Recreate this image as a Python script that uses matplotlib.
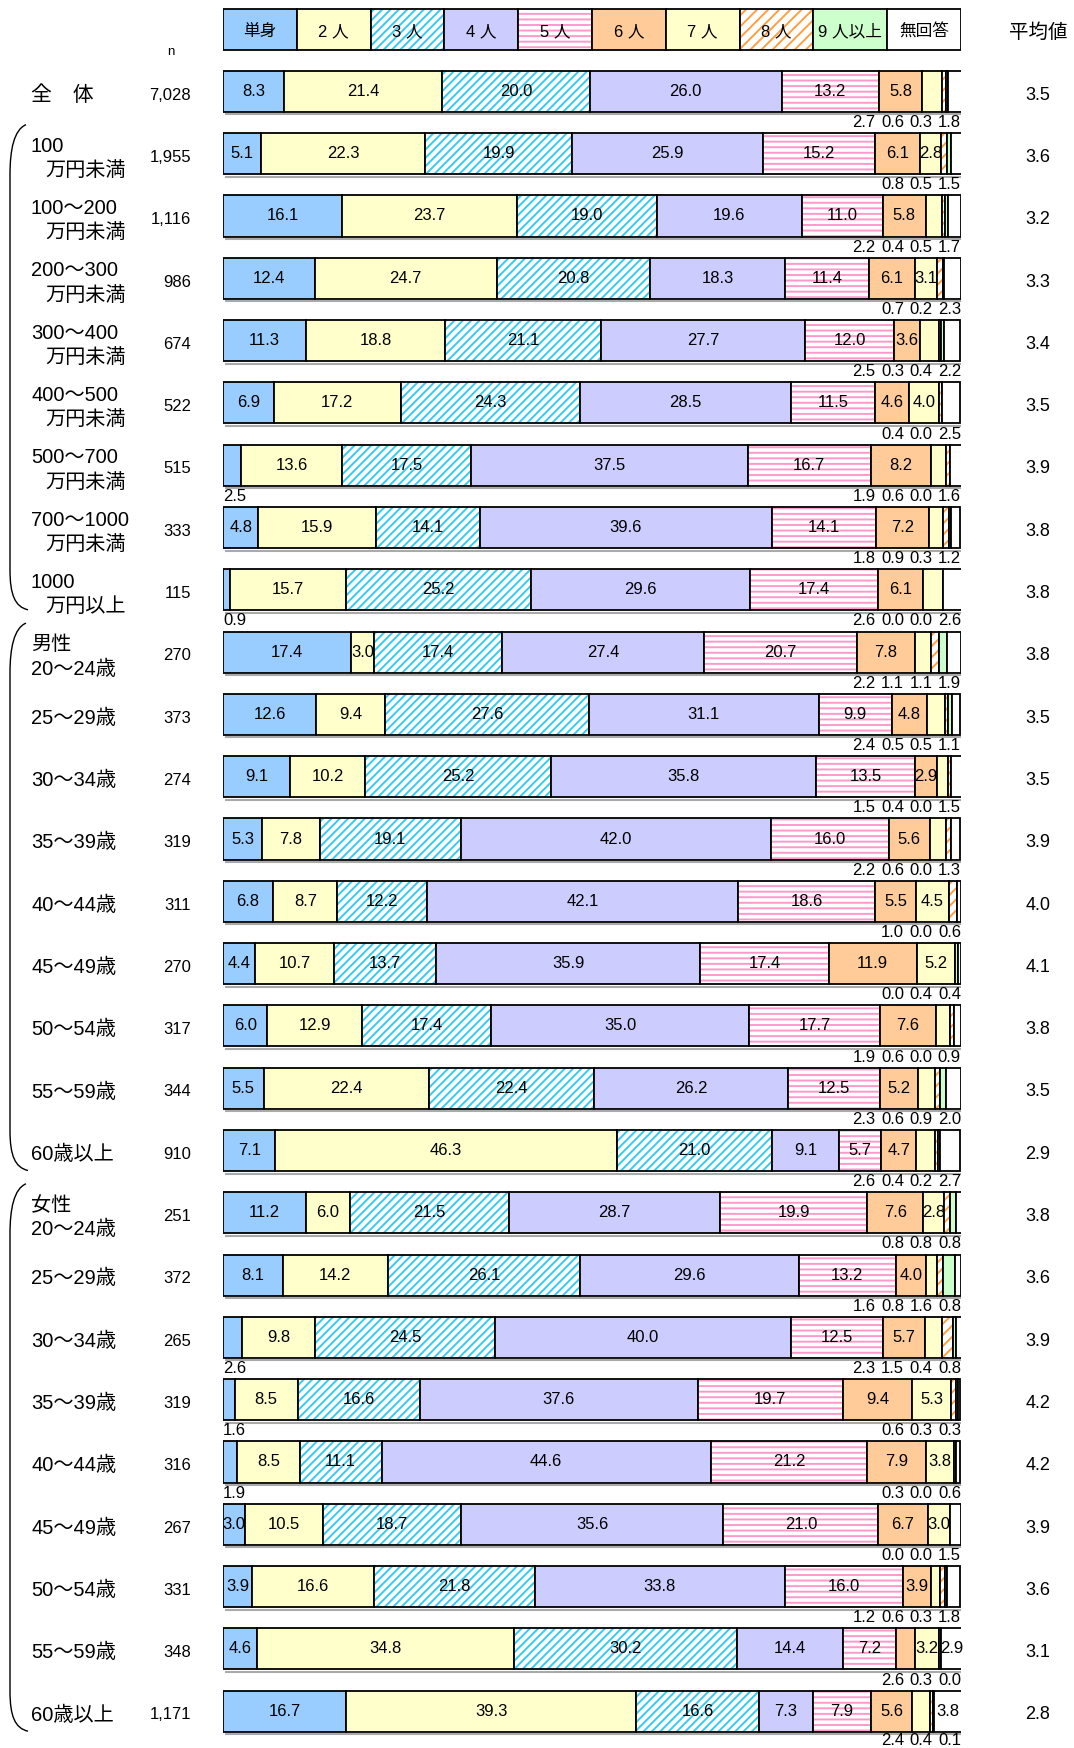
###################################################
# household size distribution by income / sex & age
###################################################
import matplotlib.pyplot as plt
import matplotlib.transforms as mtransforms
from matplotlib.path import Path
from matplotlib.patches import PathPatch

plt.rcParams['font.family'] = ['Liberation Sans', 'Noto Sans CJK JP']
plt.rcParams['hatch.linewidth'] = 1.4

# legend names of the household sizes
sizes = ["単身", "2 人", "3 人", "4 人", "5 人", "6 人", "7 人", "8 人", "9 人以上", "無回答"]

# row labels (first line, second line)
label_top = ["全　体",
             "100", "100～200", "200～300", "300～400", "400～500", "500～700", "700～1000", "1000",
             "男性", "25～29歳", "30～34歳", "35～39歳", "40～44歳", "45～49歳", "50～54歳", "55～59歳", "60歳以上",
             "女性", "25～29歳", "30～34歳", "35～39歳", "40～44歳", "45～49歳", "50～54歳", "55～59歳", "60歳以上"]
label_bottom = [None,
                "万円未満", "万円未満", "万円未満", "万円未満", "万円未満", "万円未満", "万円未満", "万円以上",
                "20～24歳", None, None, None, None, None, None, None, None,
                "20～24歳", None, None, None, None, None, None, None, None]

n_values = ["7,028",
            "1,955", "1,116", "986", "674", "522", "515", "333", "115",
            "270", "373", "274", "319", "311", "270", "317", "344", "910",
            "251", "372", "265", "319", "316", "267", "331", "348", "1,171"]

averages = [3.5,
            3.6, 3.2, 3.3, 3.4, 3.5, 3.9, 3.8, 3.8,
            3.8, 3.5, 3.5, 3.9, 4.0, 4.1, 3.8, 3.5, 2.9,
            3.8, 3.6, 3.9, 4.2, 4.2, 3.9, 3.6, 3.1, 2.8]

# shares (%) per household size
single = [8.3, 5.1, 16.1, 12.4, 11.3, 6.9, 2.5, 4.8, 0.9, 17.4, 12.6, 9.1, 5.3, 6.8, 4.4, 6.0, 5.5, 7.1,
          11.2, 8.1, 2.6, 1.6, 1.9, 3.0, 3.9, 4.6, 16.7]
two = [21.4, 22.3, 23.7, 24.7, 18.8, 17.2, 13.6, 15.9, 15.7, 3.0, 9.4, 10.2, 7.8, 8.7, 10.7, 12.9, 22.4, 46.3,
       6.0, 14.2, 9.8, 8.5, 8.5, 10.5, 16.6, 34.8, 39.3]
three = [20.0, 19.9, 19.0, 20.8, 21.1, 24.3, 17.5, 14.1, 25.2, 17.4, 27.6, 25.2, 19.1, 12.2, 13.7, 17.4, 22.4, 21.0,
         21.5, 26.1, 24.5, 16.6, 11.1, 18.7, 21.8, 30.2, 16.6]
four = [26.0, 25.9, 19.6, 18.3, 27.7, 28.5, 37.5, 39.6, 29.6, 27.4, 31.1, 35.8, 42.0, 42.1, 35.9, 35.0, 26.2, 9.1,
        28.7, 29.6, 40.0, 37.6, 44.6, 35.6, 33.8, 14.4, 7.3]
five = [13.2, 15.2, 11.0, 11.4, 12.0, 11.5, 16.7, 14.1, 17.4, 20.7, 9.9, 13.5, 16.0, 18.6, 17.4, 17.7, 12.5, 5.7,
        19.9, 13.2, 12.5, 19.7, 21.2, 21.0, 16.0, 7.2, 7.9]
six = [5.8, 6.1, 5.8, 6.1, 3.6, 4.6, 8.2, 7.2, 6.1, 7.8, 4.8, 2.9, 5.6, 5.5, 11.9, 7.6, 5.2, 4.7,
       7.6, 4.0, 5.7, 9.4, 7.9, 6.7, 3.9, 2.6, 5.6]
seven = [2.7, 2.8, 2.2, 3.1, 2.5, 4.0, 1.9, 1.8, 2.6, 2.2, 2.4, 1.5, 2.2, 4.5, 5.2, 1.9, 2.3, 2.6,
         2.8, 1.6, 2.3, 5.3, 3.8, 3.0, 1.2, 3.2, 2.4]
eight = [0.6, 0.8, 0.4, 0.7, 0.3, 0.4, 0.6, 0.9, 0.0, 1.1, 0.5, 0.4, 0.6, 1.0, 0.0, 0.6, 0.6, 0.4,
         0.8, 0.8, 1.5, 0.6, 0.3, 0.0, 0.6, 0.3, 0.4]
nine_plus = [0.3, 0.5, 0.5, 0.2, 0.4, 0.0, 0.0, 0.3, 0.0, 1.1, 0.5, 0.0, 0.0, 0.0, 0.4, 0.0, 0.9, 0.2,
             0.8, 1.6, 0.4, 0.3, 0.0, 0.0, 0.3, 0.0, 0.1]
no_answer = [1.8, 1.5, 1.7, 2.3, 2.2, 2.5, 1.6, 1.2, 2.6, 1.9, 1.1, 1.5, 1.3, 0.6, 0.4, 0.9, 2.0, 2.7,
             0.8, 0.8, 0.8, 0.3, 0.6, 1.5, 1.8, 2.9, 3.8]

series = [single, two, three, four, five, six, seven, eight, nine_plus, no_answer]

# styles
face_colors = ['#99CCFF', '#FFFFCC', 'white', '#CCCCFF', 'white', '#FFCC99', '#FFFFCC', 'white', '#CCFFCC', 'white']
hatch_colors = [None, None, '#33CCF0', None, '#FF99CC', None, None, '#FFA040', None, None]
hatches = [None, None, '////', None, '---', None, None, '///', None, None]

W, H = 1074, 1748
ROW0, STEP = 91.4, 62.3      # pixel centre of first row, row spacing
BAR_H = 0.66
INSIDE_MIN = 2.8
VAL_FS = 12
BELOW = 0.5                  # offset of the small labels under a bar

fig = plt.figure(figsize=(W / 100, H / 100), dpi=100)
ax = fig.add_axes([223 / W, 0, 738 / W, 1])
ax.set_xlim(0, 100)
ax.set_ylim((H - ROW0) / STEP, -ROW0 / STEP)
ax.axis('off')

fx = mtransforms.blended_transform_factory(fig.transFigure, ax.transData)


def draw_segments(y, widths, lefts, k, lw=1.3):
    kw = dict(height=BAR_H, left=lefts, color=face_colors[k])
    if hatches[k]:
        ax.barh(y, widths, edgecolor=hatch_colors[k], hatch=hatches[k], linewidth=0, **kw)
    else:
        ax.barh(y, widths, linewidth=0, **kw)
    ax.barh(y, widths, left=lefts, height=BAR_H, fill=False, edgecolor='black',
            linewidth=[lw if w > 0 else 0 for w in widths])


# legend row
legend_y = -0.99
for k, name in enumerate(sizes):
    draw_segments([legend_y], [10], [k * 10], k)
    ax.text(k * 10 + 5, legend_y + 0.03, name, ha='center', va='center', fontsize=12)
ax.text(1038 / W, legend_y + 0.04, "平均値", transform=fx, ha='center', va='center', fontsize=14)
ax.text(171 / W, -0.63, "n", transform=fx, ha='center', va='center', fontsize=9.5)

# stacked bars
rows = list(range(len(n_values)))
lefts = [0.0] * len(rows)
for k, vals in enumerate(series):
    draw_segments(rows, vals, lefts, k)
    lefts = [a + b for a, b in zip(lefts, vals)]

# shadow line under each bar
for i in rows:
    ax.plot([0.3, 100], [i + BAR_H / 2 + 0.04] * 2, color='#AAAAAA', lw=1.5, solid_capstyle='butt')

# value labels
for i in rows:
    pos = 0.0
    small = []
    below = BELOW if i < len(rows) - 1 else 0.47
    for k, vals in enumerate(series):
        v = vals[i]
        if v >= INSIDE_MIN:
            ax.text(pos + v / 2, i, f"{v:.1f}", ha='center', va='center', fontsize=VAL_FS)
        elif k == 0:
            ax.text(0, i + below, f"{v:.1f}", ha='left', va='center', fontsize=VAL_FS)
        else:
            small.append(v)
        pos += v
    for j, v in enumerate(reversed(small)):
        ax.annotate(f"{v:.1f}", xy=(100, i + below), xytext=(-j * 20.5, 0), textcoords='offset points',
                    ha='right', va='center', fontsize=VAL_FS)

# row labels, n and mean
for i in rows:
    if label_bottom[i] is None:
        fs = 15 if i == 0 else 14.5
        ax.text(31 / W, i + 0.06, label_top[i], transform=fx, ha='left', va='center', fontsize=fs)
    else:
        indent = 14 if label_bottom[i].startswith("万円") else 0
        ax.text(31 / W, i - 0.12, label_top[i], transform=fx, ha='left', va='center', fontsize=14.5)
        ax.text((31 + indent) / W, i + 0.27, label_bottom[i], transform=fx, ha='left', va='center',
                fontsize=14.5)
    ax.text(191 / W, i + 0.06, n_values[i], transform=fx, ha='right', va='center', fontsize=12)
    ax.text(1038 / W, i + 0.06, f"{averages[i]:.1f}", transform=fx, ha='center', va='center', fontsize=13)

# group brackets
for first, last in [(1, 8), (9, 17), (18, 26)]:
    top = ROW0 + STEP * first - 29
    bot = ROW0 + STEP * last + 20
    pts = [(26, top), (14, top + 5), (10, top + 25), (10, top + 50),
           (10, bot - 40), (10, bot - 15), (15, bot - 3), (28, bot)]
    codes = [Path.MOVETO, Path.CURVE4, Path.CURVE4, Path.CURVE4,
             Path.LINETO, Path.CURVE4, Path.CURVE4, Path.CURVE4]
    verts = [(x / W, 1 - y / H) for x, y in pts]
    fig.patches.append(PathPatch(Path(verts, codes), transform=fig.transFigure,
                                 fill=False, lw=1.0, color='black'))

fig.savefig("out.png", dpi=100)
